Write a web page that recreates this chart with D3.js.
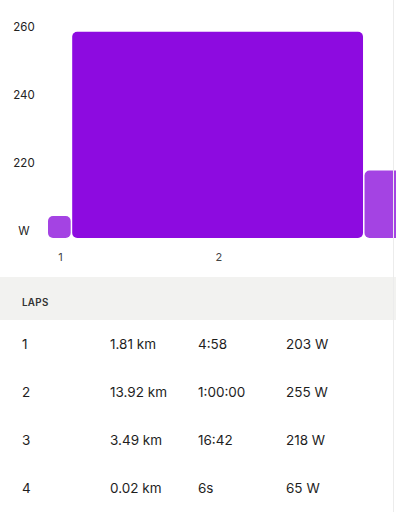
<!DOCTYPE html>
<html>
<head>
<meta charset="utf-8">
<script src="https://cdn.jsdelivr.net/npm/d3@7"></script>
<style>
  body { margin: 0; background: #fff; }
  svg { display: block; font-family: Inter, "Noto Sans", sans-serif; }
</style>
</head>
<body>
<svg width="396" height="512"></svg>
<script>
const laps = ["1", "2", "3", "4"];
const distances = ["1.81 km", "13.92 km", "3.49 km", "0.02 km"];
const times = ["4:58", "1:00:00", "16:42", "6s"];
const seconds = [298, 3600, 1002, 6];
const power = [203, 255, 218, 65];
const yTicks = [200, 220, 240, 260];

let svg = d3.select("svg");

// bars sit side by side, width = lap duration
let starts = [];
let acc = 0;
seconds.forEach((s) => { starts.push(acc); acc += s; });

let x = d3.scaleLinear().domain([0, acc]).range([48, 48 + acc * 0.0812]);
let y = d3.scaleLinear().domain([200, 260]).range([238, 13]);
let yLab = d3.scaleLinear().domain([200, 260]).range([231, 27]);
let minH = 22;

let rows = laps.map((l, i) => ({ lap: l, start: starts[i], sec: seconds[i], w: power[i] }));

svg.append("g")
  .selectAll("rect")
  .data(rows.filter((d) => d.w >= 200))
  .enter()
  .append("rect")
  .attr("x", (d) => x(d.start))
  .attr("width", (d) => Math.max(0, x(d.start + d.sec) - x(d.start) - 1.5))
  .attr("y", (d) => Math.min(y(d.w), y(200) - minH))
  .attr("height", (d) => Math.max(y(200) - y(d.w), minH))
  .attr("rx", 5)
  .attr("fill", (d) => d.lap === "2" ? "#8d0be0" : "#a443e3");

// y axis labels
let yAxis = svg.append("g")
  .attr("transform", "translate(31,0)")
  .call(d3.axisLeft(yLab).tickValues(yTicks).tickSize(0)
    .tickFormat((v) => v === 200 ? "W" : v));
yAxis.select(".domain").remove();
yAxis.selectAll("text")
  .attr("x", -7)
  .attr("text-anchor", "middle")
  .attr("font-size", 11.5)
  .attr("font-family", "Inter, sans-serif")
  .attr("fill", "#222");

// x labels at bar centres (only the ones that fit on screen)
let shown = rows.filter((d) => x(d.start + d.sec / 2) < 390);
let xAxis = svg.append("g")
  .attr("transform", "translate(0,250)")
  .call(d3.axisBottom(x).tickValues(shown.map((d) => d.start + d.sec / 2)).tickSize(0)
    .tickFormat((v, i) => shown[i].lap));
xAxis.select(".domain").remove();
xAxis.selectAll("text")
  .attr("font-size", 11)
  .attr("font-family", "Inter, sans-serif")
  .attr("fill", "#444");

// laps header band
svg.append("rect")
  .attr("x", 0).attr("y", 277).attr("width", 396).attr("height", 43)
  .attr("fill", "#f2f2f0");
svg.append("text")
  .attr("x", 22).attr("y", 306)
  .attr("font-size", 9.8).attr("font-weight", 600)
  .attr("letter-spacing", 0.3)
  .attr("fill", "#333")
  .text("LAPS");

// table
let cols = [laps, distances, times, power.map((p) => p + " W")];
let colX = [22, 110, 198, 286];
let table = svg.append("g");
cols.forEach((col, c) => {
  table.selectAll(null)
    .data(col)
    .enter()
    .append("text")
    .attr("x", colX[c])
    .attr("y", (d, i) => 349 + i * 48)
    .attr("font-size", 13.5)
    .attr("fill", "#1e1e1e")
    .text((d) => d);
});

// right container edge
svg.append("line")
  .attr("x1", 393.5).attr("x2", 393.5).attr("y1", 0).attr("y2", 512)
  .attr("stroke", "#ececec");
</script>
</body>
</html>
